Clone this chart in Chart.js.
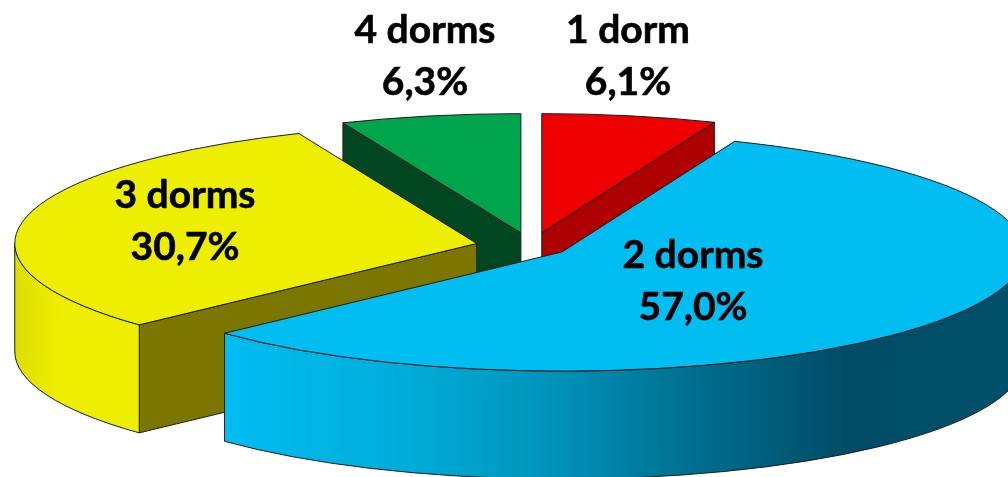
<!DOCTYPE html>
<html>
<head>
<meta charset="utf-8">
<title>Dorms</title>
<script src="https://cdn.jsdelivr.net/npm/chart.js@4"></script>
<style>
  html, body { margin: 0; padding: 0; background: #fff; overflow: hidden; }
  canvas { display: block; }
</style>
</head>
<body>
<canvas id="pie" width="1008" height="477"></canvas>
<script>
// Data
const categories = ['1 dorm', '2 dorms', '3 dorms', '4 dorms'];
const shares = [6.1, 57.0, 30.7, 6.3];

// Styles
const topColors = ['#ee0000', '#00bdf2', '#eeee00', '#00a44c'];
const sideColors = ['#ae0000', '#00bdf2', '#7b7600', '#004721'];
const explode = [54, 37, 56, 54];
const labelCenters = [[628, 30], [693, 255], [185, 195], [425, 30]];
const labelGap = 52;

const tilt = 0.258;      // flattening of the pie
const depth = 108;       // height of the walls
const wallOrder = [3, 0, 2, 1];  // back to front
const lineColor = '#1c1c1c';

// position of a slice once it is pulled out of the pie
function sliceGeom(arc, i) {
  const mid = (arc.startAngle + arc.endAngle) / 2;
  return {
    cx: arc.x + Math.cos(mid) * explode[i],
    cy: arc.y + Math.sin(mid) * explode[i] * tilt,
    rx: arc.outerRadius,
    ry: arc.outerRadius * tilt,
    start: arc.startAngle,
    end: arc.endAngle
  };
}

function radialWall(ctx, g, angle, color) {
  const px = g.cx + Math.cos(angle) * g.rx;
  const py = g.cy + Math.sin(angle) * g.ry;
  ctx.beginPath();
  ctx.moveTo(g.cx, g.cy);
  ctx.lineTo(px, py);
  ctx.lineTo(px, py + depth);
  ctx.lineTo(g.cx, g.cy + depth);
  ctx.closePath();
  ctx.fillStyle = color;
  ctx.fill();
  ctx.strokeStyle = lineColor;
  ctx.lineWidth = 1;
  ctx.stroke();
}

function wallFill(ctx, index) {
  const grad = ctx.createLinearGradient(0, 0, 1008, 0);
  if (index === 1) {
    grad.addColorStop(0.22, '#00bdf2');
    grad.addColorStop(0.40, '#00add9');
    grad.addColorStop(0.55, '#0092b8');
    grad.addColorStop(0.70, '#006c8c');
    grad.addColorStop(0.84, '#004c66');
    grad.addColorStop(1, '#005069');
  } else {
    grad.addColorStop(0.015, '#dede00');
    grad.addColorStop(0.06, '#eeee00');
    grad.addColorStop(1, '#eeee00');
  }
  return grad;
}

function outerWall(ctx, g, index) {
  const a = Math.max(g.start, 0);
  const b = Math.min(g.end, Math.PI);
  if (b <= a) return;
  ctx.beginPath();
  ctx.ellipse(g.cx, g.cy, g.rx, g.ry, 0, a, b);
  ctx.ellipse(g.cx, g.cy + depth, g.rx, g.ry, 0, b, a, true);
  ctx.closePath();
  ctx.fillStyle = wallFill(ctx, index);
  ctx.fill();
  ctx.strokeStyle = lineColor;
  ctx.lineWidth = 1;
  ctx.stroke();
}

const pie3d = {
  id: 'pie3d',
  beforeDatasetDraw(chart) {
    const ctx = chart.ctx;
    const arcs = chart.getDatasetMeta(0).data;
    // walls first, the tops go over them
    wallOrder.forEach(i => {
      const g = sliceGeom(arcs[i], i);
      if (Math.cos(g.start) < -1e-6) radialWall(ctx, g, g.start, sideColors[i]);
      if (Math.cos(g.end) > 1e-6) radialWall(ctx, g, g.end, sideColors[i]);
      outerWall(ctx, g, i);
    });
    arcs.forEach((arc, i) => {
      const g = sliceGeom(arc, i);
      ctx.save();
      ctx.translate(g.cx, g.cy);
      ctx.scale(1, tilt);
      ctx.translate(-arc.x, -arc.y);
      arc.draw(ctx);
      ctx.restore();
      // outline stroked unscaled so it keeps an even width
      ctx.beginPath();
      ctx.moveTo(g.cx, g.cy);
      ctx.ellipse(g.cx, g.cy, g.rx, g.ry, 0, g.start, g.end);
      ctx.closePath();
      ctx.strokeStyle = lineColor;
      ctx.lineWidth = 1;
      ctx.stroke();
    });
    return false;
  },
  afterDraw(chart) {
    const ctx = chart.ctx;
    ctx.save();
    ctx.font = 'bold 39px Lato';
    ctx.fillStyle = '#000';
    ctx.strokeStyle = '#000';
    ctx.lineWidth = 0.6;
    ctx.textAlign = 'center';
    ctx.textBaseline = 'middle';
    categories.forEach((name, i) => {
      const [x, y] = labelCenters[i];
      const pct = shares[i].toFixed(1).replace('.', ',') + '%';
      ctx.fillText(name, x, y);
      ctx.strokeText(name, x, y);
      ctx.fillText(pct, x, y + labelGap);
      ctx.strokeText(pct, x, y + labelGap);
    });
    ctx.restore();
  }
};

new Chart(document.getElementById('pie'), {
  type: 'pie',
  data: {
    labels: categories,
    datasets: [{
      data: shares,
      backgroundColor: topColors,
      borderWidth: 0,
      hoverOffset: 0,
      clip: false
    }]
  },
  options: {
    responsive: false,
    animation: false,
    radius: 462,
    layout: { padding: { left: 55, top: 16 } },
    events: [],
    plugins: { legend: { display: false }, tooltip: { enabled: false } }
  },
  plugins: [pie3d]
});
</script>
</body>
</html>
